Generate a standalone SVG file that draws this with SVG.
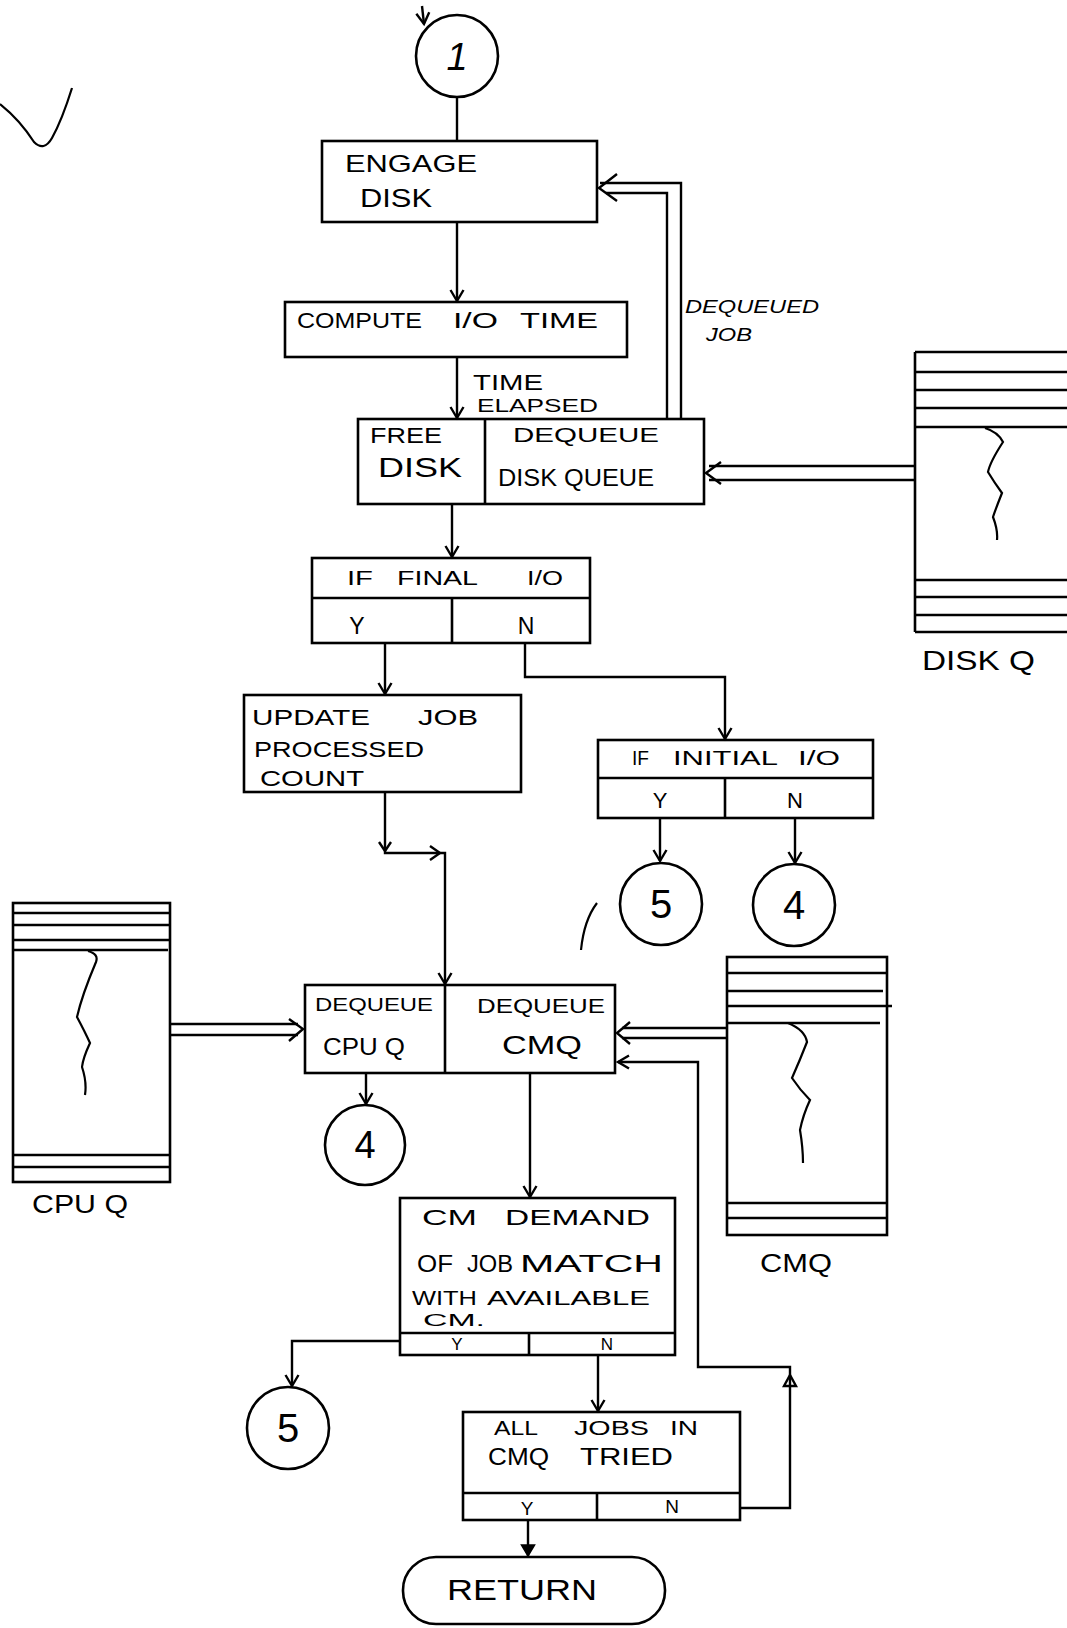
<svg xmlns="http://www.w3.org/2000/svg" width="1067" height="1628" viewBox="0 0 1067 1628">
<style>
.b{fill:none;stroke:#000;stroke-width:2.6}
.l{fill:none;stroke:#000;stroke-width:2.4}
.q{fill:none;stroke:#000;stroke-width:2.4}
.s{fill:none;stroke:#000;stroke-width:2.2}
.t{font-family:"Liberation Sans",Arial,sans-serif;fill:#000}
</style>
<defs>
<marker id="a" markerUnits="userSpaceOnUse" markerWidth="16" markerHeight="16" refX="13" refY="8" orient="auto">
<path d="M2,1.5 L13,8 L2,14.5" fill="none" stroke="#000" stroke-width="2.4"/>
</marker>
<marker id="f" markerUnits="userSpaceOnUse" markerWidth="16" markerHeight="16" refX="13" refY="8" orient="auto">
<path d="M2,1.5 L13,8 L2,14.5 Z" fill="#000" stroke="#000" stroke-width="1.5"/>
</marker>
</defs>
<rect width="1067" height="1628" fill="#fff"/>

<g id="stray" class="s">
<path d="M0,104 Q20,120 34,142 Q44,152 52,138 Q62,120 72,88"/>
<path d="M597,903 Q584,920 581,950"/>
</g>

<g id="connectors">
<path class="l" d="M422,6 L424,24" marker-end="url(#a)"/>
<path class="l" d="M457,97 L457,141"/>
<path class="l" d="M457,222 L457,301" marker-end="url(#a)"/>
<path class="l" d="M457,357 L457,418" marker-end="url(#a)"/>
<path class="l" d="M452,504 L452,557" marker-end="url(#a)"/>
<path class="l" d="M385,643 L385,694" marker-end="url(#a)"/>
<path class="l" d="M525,643 L525,677 L725,677 L725,739" marker-end="url(#a)"/>
<path class="l" d="M385,792 L385,853 L445,853 L445,984" marker-end="url(#a)"/>
<path class="l" d="M379,842 L385,851 L391,842"/>
<path class="l" d="M430,846 L440,853 L430,860"/>
<path class="l" d="M660,818 L660,861" marker-end="url(#a)"/>
<path class="l" d="M795,818 L795,863" marker-end="url(#a)"/>
<path class="l" d="M366,1073 L366,1104" marker-end="url(#a)"/>
<path class="l" d="M530,1073 L530,1197" marker-end="url(#a)"/>
<path class="l" d="M400,1341 L292,1341 L292,1386" marker-end="url(#a)"/>
<path class="l" d="M598,1355 L598,1411" marker-end="url(#a)"/>
<path class="l" d="M528,1520 L528,1556" marker-end="url(#f)"/>
<path class="l" d="M740,1508 L790,1508 L790,1367 L698,1367 L698,1062 L618,1062" marker-end="url(#a)"/>
<path class="l" d="M784,1386 L790,1375 L796,1386 Z"/>
<path class="q" d="M600,183 L681,183 L681,419"/>
<path class="q" d="M606,193 L667,193 L667,419"/>
<path class="q" d="M617,174 L599,188 L617,201"/>
<path class="q" d="M709,466 L915,466"/>
<path class="q" d="M709,480 L915,480"/>
<path class="q" d="M721,462 L706,473 L721,484"/>
<path class="q" d="M170,1024 L298,1024"/>
<path class="q" d="M170,1035 L298,1035"/>
<path class="q" d="M289,1019 L303,1029 L289,1041"/>
<path class="q" d="M622,1028 L727,1028"/>
<path class="q" d="M622,1038 L727,1038"/>
<path class="q" d="M630,1022 L617,1033 L630,1044"/>
</g>

<g id="label-dequeued-job">
<text class="t" x="685" y="313" font-size="18" font-style="italic" textLength="134" lengthAdjust="spacingAndGlyphs">DEQUEUED</text>
<text class="t" x="706" y="341" font-size="18" font-style="italic" textLength="46" lengthAdjust="spacingAndGlyphs">JOB</text>
</g>
<g id="label-time-elapsed">
<text class="t" x="473" y="390" font-size="22" textLength="70" lengthAdjust="spacingAndGlyphs">TIME</text>
<text class="t" x="477" y="412" font-size="18" textLength="121" lengthAdjust="spacingAndGlyphs">ELAPSED</text>
</g>

<g id="node-1">
<circle class="b" cx="457" cy="56" r="41"/>
<text class="t" x="457" y="70" font-size="38" font-style="italic" text-anchor="middle">1</text>
</g>

<g id="node-engage-disk">
<rect class="b" x="322" y="141" width="275" height="81"/>
<text class="t" x="345" y="172" font-size="24" textLength="132" lengthAdjust="spacingAndGlyphs">ENGAGE</text>
<text class="t" x="360" y="207" font-size="26" textLength="72" lengthAdjust="spacingAndGlyphs">DISK</text>
</g>

<g id="node-compute">
<rect class="b" x="285" y="302" width="342" height="55"/>
<text class="t" x="297" y="328" font-size="22" textLength="125" lengthAdjust="spacingAndGlyphs">COMPUTE</text>
<text class="t" x="453" y="328" font-size="22" textLength="45" lengthAdjust="spacingAndGlyphs">I/O</text>
<text class="t" x="520" y="328" font-size="22" textLength="78" lengthAdjust="spacingAndGlyphs">TIME</text>
</g>

<g id="node-free-disk">
<rect class="b" x="358" y="419" width="346" height="85"/>
<line class="b" x1="485" y1="419" x2="485" y2="504"/>
<text class="t" x="370" y="443" font-size="22" textLength="72" lengthAdjust="spacingAndGlyphs">FREE</text>
<text class="t" x="378" y="477" font-size="28" textLength="84" lengthAdjust="spacingAndGlyphs">DISK</text>
<text class="t" x="513" y="442" font-size="21" textLength="146" lengthAdjust="spacingAndGlyphs">DEQUEUE</text>
<text class="t" x="498" y="486" font-size="24" textLength="156" lengthAdjust="spacingAndGlyphs">DISK QUEUE</text>
</g>

<g id="node-if-final">
<rect class="b" x="312" y="558" width="278" height="85"/>
<line class="b" x1="312" y1="598" x2="590" y2="598"/>
<line class="b" x1="452" y1="598" x2="452" y2="643"/>
<text class="t" x="347" y="585" font-size="21" textLength="26" lengthAdjust="spacingAndGlyphs">IF</text>
<text class="t" x="397" y="585" font-size="21" textLength="81" lengthAdjust="spacingAndGlyphs">FINAL</text>
<text class="t" x="527" y="585" font-size="21" textLength="36" lengthAdjust="spacingAndGlyphs">I/O</text>
<text class="t" x="357" y="634" font-size="23" text-anchor="middle">Y</text>
<text class="t" x="526" y="634" font-size="23" text-anchor="middle">N</text>
</g>

<g id="node-update-job">
<rect class="b" x="244" y="695" width="277" height="97"/>
<text class="t" x="252" y="725" font-size="22" textLength="118" lengthAdjust="spacingAndGlyphs">UPDATE</text>
<text class="t" x="418" y="725" font-size="22" textLength="60" lengthAdjust="spacingAndGlyphs">JOB</text>
<text class="t" x="254" y="757" font-size="22" textLength="170" lengthAdjust="spacingAndGlyphs">PROCESSED</text>
<text class="t" x="260" y="786" font-size="22" textLength="104" lengthAdjust="spacingAndGlyphs">COUNT</text>
</g>

<g id="node-if-initial">
<rect class="b" x="598" y="740" width="275" height="78"/>
<line class="b" x1="598" y1="778" x2="873" y2="778"/>
<line class="b" x1="725" y1="778" x2="725" y2="818"/>
<text class="t" x="632" y="765" font-size="20" textLength="17" lengthAdjust="spacingAndGlyphs">IF</text>
<text class="t" x="673" y="765" font-size="20" textLength="105" lengthAdjust="spacingAndGlyphs">INITIAL</text>
<text class="t" x="798" y="765" font-size="20" textLength="42" lengthAdjust="spacingAndGlyphs">I/O</text>
<text class="t" x="660" y="808" font-size="22" text-anchor="middle">Y</text>
<text class="t" x="795" y="808" font-size="22" text-anchor="middle">N</text>
</g>

<g id="node-5a">
<circle class="b" cx="661" cy="904" r="41"/>
<text class="t" x="661" y="918" font-size="40" text-anchor="middle">5</text>
</g>
<g id="node-4a">
<circle class="b" cx="794" cy="905" r="41"/>
<text class="t" x="794" y="919" font-size="40" text-anchor="middle">4</text>
</g>

<g id="node-disk-q">
<path class="b" d="M915,352 L915,632"/>
<path class="l" d="M915,352 L1067,352 M915,372 L1067,372 M915,390 L1067,390 M915,408 L1067,408 M915,427 L1067,427 M915,580 L1067,580 M915,597 L1067,597 M915,615 L1067,615 M915,632 L1067,632"/>
<path class="s" d="M985,428 Q998,432 1003,442 Q990,462 988,472 Q994,482 1002,493 Q996,508 993,517 Q998,530 997,540"/>
<text class="t" x="922" y="670" font-size="28" textLength="113" lengthAdjust="spacingAndGlyphs">DISK Q</text>
</g>

<g id="node-cpu-q">
<rect class="b" x="13" y="903" width="157" height="279"/>
<path class="l" d="M13,913 L170,913 M13,925 L170,925 M13,940 L170,940 M13,950 L168,950 M13,1155 L170,1155 M13,1167 L170,1167"/>
<path class="s" d="M88,951 Q99,954 96,962 Q82,995 77,1017 Q85,1032 90,1043 Q83,1058 82,1067 Q87,1082 85,1095"/>
<text class="t" x="32" y="1213" font-size="26" textLength="96" lengthAdjust="spacingAndGlyphs">CPU Q</text>
</g>

<g id="node-dequeue">
<rect class="b" x="305" y="985" width="310" height="88"/>
<line class="b" x1="445" y1="985" x2="445" y2="1073"/>
<text class="t" x="315" y="1011" font-size="18" textLength="118" lengthAdjust="spacingAndGlyphs">DEQUEUE</text>
<text class="t" x="323" y="1055" font-size="24" textLength="82" lengthAdjust="spacingAndGlyphs">CPU Q</text>
<text class="t" x="477" y="1013" font-size="21" textLength="128" lengthAdjust="spacingAndGlyphs">DEQUEUE</text>
<text class="t" x="502" y="1054" font-size="25" textLength="80" lengthAdjust="spacingAndGlyphs">CMQ</text>
</g>

<g id="node-4b">
<circle class="b" cx="365" cy="1145" r="40"/>
<text class="t" x="365" y="1158" font-size="38" text-anchor="middle">4</text>
</g>

<g id="node-cmq">
<rect class="b" x="727" y="957" width="160" height="278"/>
<path class="l" d="M727,973 L887,973 M727,991 L883,991 M727,1006 L892,1006 M727,1023 L880,1023 M727,1203 L887,1203 M727,1218 L887,1218"/>
<path class="s" d="M788,1023 Q805,1030 807,1042 Q800,1060 792,1078 Q800,1090 810,1100 Q803,1115 800,1130 Q803,1148 803,1163"/>
<text class="t" x="760" y="1272" font-size="26" textLength="72" lengthAdjust="spacingAndGlyphs">CMQ</text>
</g>

<g id="node-cm-demand">
<rect class="b" x="400" y="1198" width="275" height="157"/>
<line class="b" x1="400" y1="1333" x2="675" y2="1333"/>
<line class="b" x1="529" y1="1333" x2="529" y2="1355"/>
<text class="t" x="422" y="1225" font-size="22" textLength="55" lengthAdjust="spacingAndGlyphs">CM</text>
<text class="t" x="505" y="1225" font-size="22" textLength="145" lengthAdjust="spacingAndGlyphs">DEMAND</text>
<text class="t" x="417" y="1272" font-size="24" textLength="36" lengthAdjust="spacingAndGlyphs">OF</text>
<text class="t" x="467" y="1272" font-size="24" textLength="46" lengthAdjust="spacingAndGlyphs">JOB</text>
<text class="t" x="520" y="1272" font-size="24" textLength="143" lengthAdjust="spacingAndGlyphs">MATCH</text>
<text class="t" x="412" y="1305" font-size="21" textLength="65" lengthAdjust="spacingAndGlyphs">WITH</text>
<text class="t" x="487" y="1305" font-size="21" textLength="163" lengthAdjust="spacingAndGlyphs">AVAILABLE</text>
<text class="t" x="423" y="1326" font-size="16" textLength="62" lengthAdjust="spacingAndGlyphs">CM.</text>
<text class="t" x="457" y="1350" font-size="17" text-anchor="middle">Y</text>
<text class="t" x="607" y="1350" font-size="17" text-anchor="middle">N</text>
</g>

<g id="node-5b">
<circle class="b" cx="288" cy="1428" r="41"/>
<text class="t" x="288" y="1442" font-size="40" text-anchor="middle">5</text>
</g>

<g id="node-all-jobs">
<rect class="b" x="463" y="1412" width="277" height="108"/>
<line class="b" x1="463" y1="1493" x2="740" y2="1493"/>
<line class="b" x1="597" y1="1493" x2="597" y2="1520"/>
<text class="t" x="494" y="1435" font-size="20" textLength="44" lengthAdjust="spacingAndGlyphs">ALL</text>
<text class="t" x="574" y="1435" font-size="20" textLength="75" lengthAdjust="spacingAndGlyphs">JOBS</text>
<text class="t" x="670" y="1435" font-size="20" textLength="28" lengthAdjust="spacingAndGlyphs">IN</text>
<text class="t" x="488" y="1465" font-size="23" textLength="61" lengthAdjust="spacingAndGlyphs">CMQ</text>
<text class="t" x="580" y="1465" font-size="23" textLength="93" lengthAdjust="spacingAndGlyphs">TRIED</text>
<text class="t" x="527" y="1515" font-size="19" text-anchor="middle">Y</text>
<text class="t" x="672" y="1513" font-size="19" text-anchor="middle">N</text>
</g>

<g id="node-return">
<rect class="b" x="403" y="1557" width="262" height="67" rx="33" ry="33"/>
<text class="t" x="447" y="1600" font-size="30" textLength="150" lengthAdjust="spacingAndGlyphs">RETURN</text>
</g>
</svg>
